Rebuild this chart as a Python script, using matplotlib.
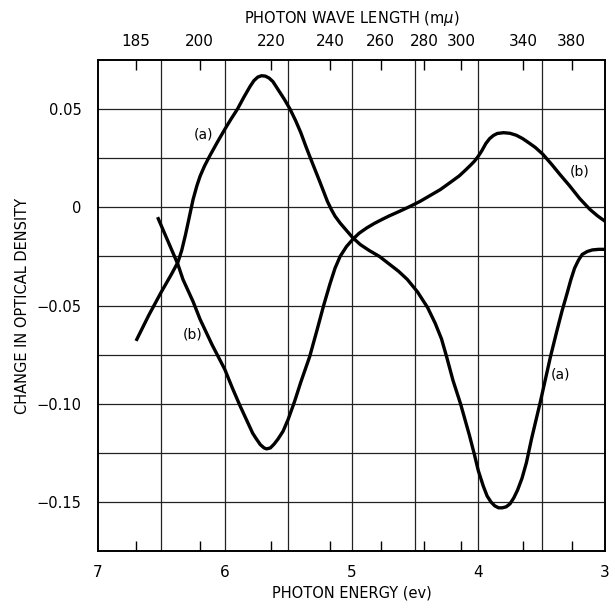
import numpy as np
import matplotlib
matplotlib.use("Agg")
import matplotlib.pyplot as plt

# Curve (a): photon energy (eV) and change in optical density
a_energy = [6.70, 6.60, 6.50, 6.42, 6.37, 6.34, 6.31, 6.29, 6.27, 6.25, 6.22, 6.195, 6.16,
            6.12, 6.06, 6.00, 5.95, 5.90, 5.85, 5.80, 5.77, 5.74, 5.71, 5.68, 5.65, 5.62,
            5.58, 5.53, 5.485, 5.44, 5.40, 5.36, 5.33, 5.29, 5.25, 5.22, 5.19, 5.16, 5.13,
            5.09, 5.05, 4.99, 4.93, 4.86, 4.78, 4.70, 4.63, 4.56, 4.48, 4.40, 4.34, 4.29,
            4.25, 4.20, 4.14, 4.07, 4.03, 4.00, 3.96, 3.93, 3.90, 3.87, 3.84, 3.81, 3.78,
            3.75, 3.72, 3.69, 3.655, 3.62, 3.58, 3.51, 3.43, 3.38, 3.34, 3.30, 3.27, 3.24,
            3.21, 3.18, 3.14, 3.10, 3.05, 3.00]
a_density = [-0.068, -0.055, -0.043, -0.034, -0.028, -0.022, -0.014, -0.008, -0.002, 0.004,
             0.011, 0.0158, 0.021, 0.026, 0.033, 0.0397, 0.045, 0.050, 0.056, 0.0616,
             0.0645, 0.0663, 0.067, 0.0668, 0.0658, 0.064, 0.060, 0.055, 0.050, 0.044,
             0.038, 0.031, 0.026, 0.0195, 0.013, 0.008, 0.003, -0.001, -0.0045, -0.008,
             -0.011, -0.0155, -0.019, -0.022, -0.025, -0.029, -0.0325, -0.0367, -0.043,
             -0.051, -0.059, -0.067, -0.076, -0.088, -0.100, -0.116, -0.126, -0.134, -0.142,
             -0.147, -0.150, -0.152, -0.153, -0.153, -0.1525, -0.151, -0.148, -0.144,
             -0.138, -0.130, -0.118, -0.099, -0.076, -0.063, -0.053, -0.044, -0.037, -0.031,
             -0.027, -0.024, -0.0225, -0.0217, -0.0214, -0.0214]

# Curve (b)
b_energy = [6.53, 6.45, 6.37, 6.33, 6.25, 6.195, 6.10, 6.00, 5.94, 5.88, 5.83, 5.78, 5.75,
            5.72, 5.69, 5.67, 5.64, 5.61, 5.58, 5.54, 5.50, 5.45, 5.40, 5.33, 5.27, 5.22,
            5.17, 5.13, 5.09, 5.04, 4.99, 4.94, 4.88, 4.82, 4.76, 4.70, 4.62, 4.54, 4.46,
            4.38, 4.30, 4.22, 4.15, 4.10, 4.06, 4.03, 4.00, 3.97, 3.94, 3.91, 3.88, 3.85,
            3.80, 3.75, 3.70, 3.65, 3.60, 3.55, 3.49, 3.42, 3.35, 3.28, 3.20, 3.12, 3.06,
            3.00]
b_density = [-0.005, -0.017, -0.029, -0.0367, -0.048, -0.057, -0.070, -0.0825, -0.092,
             -0.101, -0.108, -0.115, -0.118, -0.1208, -0.1225, -0.123, -0.1225, -0.1205,
             -0.118, -0.114, -0.108, -0.099, -0.089, -0.076, -0.062, -0.050, -0.039, -0.031,
             -0.025, -0.020, -0.0163, -0.0132, -0.0105, -0.0082, -0.0062, -0.0043, -0.002,
             0.0004, 0.003, 0.006, 0.009, 0.0127, 0.016, 0.019, 0.0215, 0.0235, 0.026,
             0.029, 0.0325, 0.035, 0.0366, 0.0376, 0.038, 0.0377, 0.0367, 0.035, 0.0328,
             0.0305, 0.027, 0.0218, 0.0163, 0.011, 0.0045, -0.001, -0.0043, -0.0071]

energy_ticks = [7, 6, 5, 4, 3]
energy_labels = ["7", "6", "5", "4", "3"]
density_ticks = [0.05, 0, -0.05, -0.10, -0.15]
density_labels = ["0.05", "0", "\u22120.05", "\u22120.10", "\u22120.15"]
wavelength_ticks = [185, 200, 220, 240, 260, 280, 300, 340, 380]
wavelength_labels = [str(w) for w in wavelength_ticks]
grid_energy = [6.5, 6.0, 5.5, 5.0, 4.5, 4.0, 3.5]
grid_density = [0.05, 0.025, 0, -0.025, -0.05, -0.075, -0.10, -0.125, -0.15]

plt.rcParams['font.family'] = ['DejaVu Sans']
fig = plt.figure(figsize=(6.10, 6.02), dpi=100)
ax = fig.add_axes([0.1607, 0.0847, 0.8311, 0.8156])

ax.set_xlim(7, 3)
ax.set_ylim(-0.175, 0.075)

for g in grid_energy:
    ax.axvline(g, color='#222222', lw=0.9, zorder=1)
for g in grid_density:
    ax.axhline(g, color='#222222', lw=0.9, zorder=1)

ax.plot(a_energy, a_density, color='black', lw=2.4, solid_joinstyle='round',
        solid_capstyle='butt', zorder=3)
ax.plot(b_energy, b_density, color='black', lw=2.4, solid_joinstyle='round',
        solid_capstyle='butt', zorder=3)

lab_kw = dict(fontsize=10, ha='center', va='center', zorder=4)
ax.text(6.17, 0.037, "(a)", **lab_kw)
ax.text(3.20, 0.018, "(b)", **lab_kw)
ax.text(6.25, -0.065, "(b)", **lab_kw)
ax.text(3.355, -0.085, "(a)", **lab_kw)

wl_pos = [1239.8 / w for w in wavelength_ticks]

ax.set_xticks(energy_ticks)
ax.set_xticklabels(energy_labels, fontsize=11)
ax.set_xticks(wl_pos, minor=True)
ax.tick_params(axis='x', which='major', length=0, pad=10)
ax.tick_params(axis='x', which='minor', direction='in', length=7, width=1.0)
ax.set_yticks(density_ticks)
ax.set_yticklabels(density_labels, fontsize=10.5)
ax.tick_params(axis='y', which='major', length=0, pad=12)
ax.set_xlabel("PHOTON ENERGY (ev)", fontsize=10.5, labelpad=4)
ax.set_ylabel("CHANGE IN OPTICAL DENSITY", fontsize=10.5)
ax.yaxis.set_label_coords(-0.135, 0.5)

top = ax.twiny()
top.set_xlim(ax.get_xlim())
top.set_xticks(wl_pos)
top.set_xticklabels(wavelength_labels, fontsize=11)
top.tick_params(axis='x', direction='in', length=7, width=1.0, pad=8)
top.set_xlabel("PHOTON WAVE LENGTH (m$\\mu$)", fontsize=10.5, labelpad=8)

for a_ in (ax, top):
    for s in a_.spines.values():
        s.set_linewidth(1.2)

fig.savefig("out.png", dpi=100)
